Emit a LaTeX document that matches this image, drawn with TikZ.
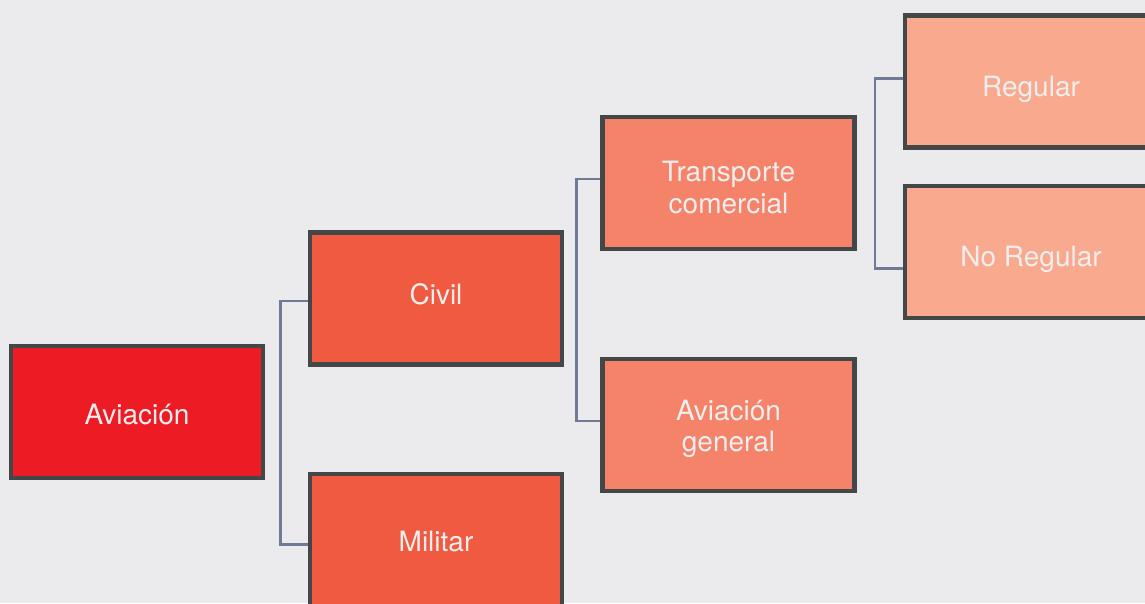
\documentclass[tikz,border=0pt]{standalone}
\usepackage{fontspec}
\setmainfont{TeX Gyre Heros}
\definecolor{chartpaper}{HTML}{EBEBED}
\definecolor{chartedge}{HTML}{434748}
\definecolor{chartlink}{HTML}{6E7A96}
\definecolor{chartlabel}{HTML}{EEEEEE}
\definecolor{levelzero}{HTML}{ED1C24}
\definecolor{levelone}{HTML}{F05A40}
\definecolor{leveltwo}{HTML}{F4836A}
\definecolor{levelthree}{HTML}{F8A98E}

\begin{document}
\begin{tikzpicture}[
  x=1pt,
  y=-1pt,
  box/.style={draw=chartedge, line width=4.7pt, minimum width=252pt,
    minimum height=132pt},
  caption/.style={font=\fontsize{28}{31.5}\selectfont, text=chartlabel,
    align=center, inner sep=0pt, anchor=base},
  link/.style={chartlink, line width=2.6pt}
]
  % page and cut-off edges
  \fill[chartpaper] (0,0) rectangle (1145,603);
  \clip (0,0) rectangle (1145,603);

  % ================= the boxes, one column per level =====================
  \node[box, fill=levelzero]  (avi)   at (137,412)   {};
  \node[box, fill=levelone]   (civ)   at (436,298.5) {};
  \node[box, fill=levelone]   (mil)   at (436,540)   {};
  \node[box, fill=leveltwo]   (tra)   at (728.5,183) {};
  \node[box, fill=leveltwo]   (gen)   at (728.5,425) {};
  \node[box, fill=levelthree] (reg)   at (1031,81.7) {};
  \node[box, fill=levelthree] (noreg) at (1031,252)  {};

  % captions sit on their own baselines (the last line for two-line ones)
  \node[caption] (avi-cap)   at ([yshift=-12.3pt]avi.center)   {Aviación};
  \node[caption] (civ-cap)   at ([yshift=-5.8pt]civ.center)    {Civil};
  \node[caption] (mil-cap)   at ([yshift=-11.7pt]mil.center)   {Militar};
  \node[caption] (tra-cap)   at ([yshift=-30pt]tra.center)     {Transporte\\comercial};
  \node[caption] (gen-cap)   at ([yshift=-26.5pt]gen.center)   {Aviación\\general};
  \node[caption] (reg-cap)   at ([yshift=-14.3pt]reg.center)   {Regular};
  \node[caption] (noreg-cap) at ([yshift=-14.7pt]noreg.center) {No Regular};

  % ================= brackets between the columns ========================
  \draw[link] ([yshift=-2.5pt]civ.west) -- ++(-27,0)
    |- ([yshift=-4.3pt]mil.west);
  \draw[link] ([yshift=4pt]tra.west) -- ++(-23.4,0)
    |- ([yshift=4pt]gen.west);
  \draw[link] ([yshift=3pt]reg.west) -- ++(-27.7,0)
    |- ([yshift=-16.7pt]noreg.west);
\end{tikzpicture}
\end{document}
